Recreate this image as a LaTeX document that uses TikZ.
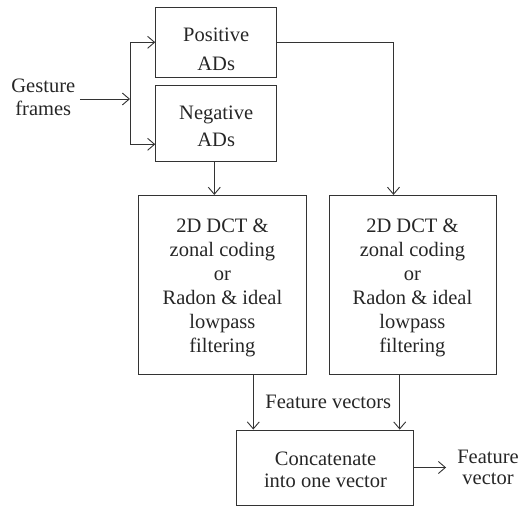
\documentclass[tikz,border=0pt]{standalone}
\usepackage{fontspec}
\setmainfont{Liberation Serif}
\newfontfamily\tmsfont{Liberation Serif}
\usetikzlibrary{arrows.meta,calc}
\tikzset{
  box/.style={draw=black!80, line width=0.9pt, inner sep=0pt},
  txt/.style={align=center, inner sep=0pt, text=black!85},
  arr/.style={draw=black!80, line width=0.9pt, -{Straight Barb[length=7pt,width=12pt,line width=0.9pt]}},
  ln/.style={draw=black!80, line width=0.9pt},
}
\begin{document}
\begin{tikzpicture}[x=1pt,y=-1pt]
\useasboundingbox (0,0) rectangle (521,508);
% boxes
\node[box, minimum width=121pt, minimum height=70pt] (pos) at (216.2,42.3) {};
\node[box, minimum width=121pt, minimum height=76pt] (neg) at (216.2,123.7) {};
\node[box, minimum width=167.7pt, minimum height=178.7pt] (lbox) at (222.2,284.7) {};
\node[box, minimum width=167.7pt, minimum height=178.7pt] (rbox) at (412.8,284.7) {};
\node[box, minimum width=177.3pt, minimum height=75pt] (concat) at (324.7,467.5) {};
% texts
\node[txt, font=\tmsfont\fontsize{20.5}{29}\selectfont] (posT) at (216.2,49) {Positive\\ADs};
\node[txt, font=\tmsfont\fontsize{20.5}{26.5}\selectfont] (negT) at (216.2,126.3) {Negative\\ADs};
\node[txt, font=\tmsfont\fontsize{20.5}{24}\selectfont] (lT) at (222.4,288) {2D DCT \&\\zonal coding\\or\\Radon \& ideal\\lowpass\\filtering};
\node[txt, font=\tmsfont\fontsize{20.5}{24}\selectfont] (rT) at (412.4,288) {2D DCT \&\\zonal coding\\or\\Radon \& ideal\\lowpass\\filtering};
\node[txt, font=\tmsfont\fontsize{20.5}{21.8}\selectfont] (cT) at (325.5,470) {Concatenate\\into one vector};
\node[txt, font=\tmsfont\fontsize{20.5}{23.3}\selectfont, inner xsep=4.5pt] (gest) at (43.3,97) {Gesture\\frames};
\node[txt, font=\tmsfont\fontsize{20.5}{21}\selectfont, inner xsep=11pt] (fv) at (488,467) {Feature\\vector};
\node[txt, font=\tmsfont\fontsize{20.5}{24}\selectfont] (fvs) at (328.3,402) {Feature vectors};
% junction
\coordinate (j) at (130,99);
\coordinate (jn) at (130,144.3);
\draw[arr] (gest.east |- j) -- (j);
\draw[ln] (j |- pos.west) -- (jn);
\draw[arr] (j |- pos.west) -- (pos.west);
\draw[arr] (jn) -- (jn -| neg.west);
% positive to right box
\coordinate (rin) at ($(rbox.north)+(-19.3,0)$);
\draw[arr] (pos.east) -| (rin);
% negative to left box
\coordinate (nout) at ($(neg.south)+(-1.9,0)$);
\draw[arr] (nout) -- (nout |- lbox.north);
% boxes to concat
\coordinate (lout) at ($(lbox.south)+(31.1,0)$);
\coordinate (rout) at ($(rbox.south)+(-13.1,0)$);
\draw[arr] (lout) -- (lout |- concat.north);
\draw[arr] (rout) -- (rout |- concat.north);
% output
\draw[arr] (concat.east) -- (concat.east -| fv.west);
\end{tikzpicture}
\end{document}
